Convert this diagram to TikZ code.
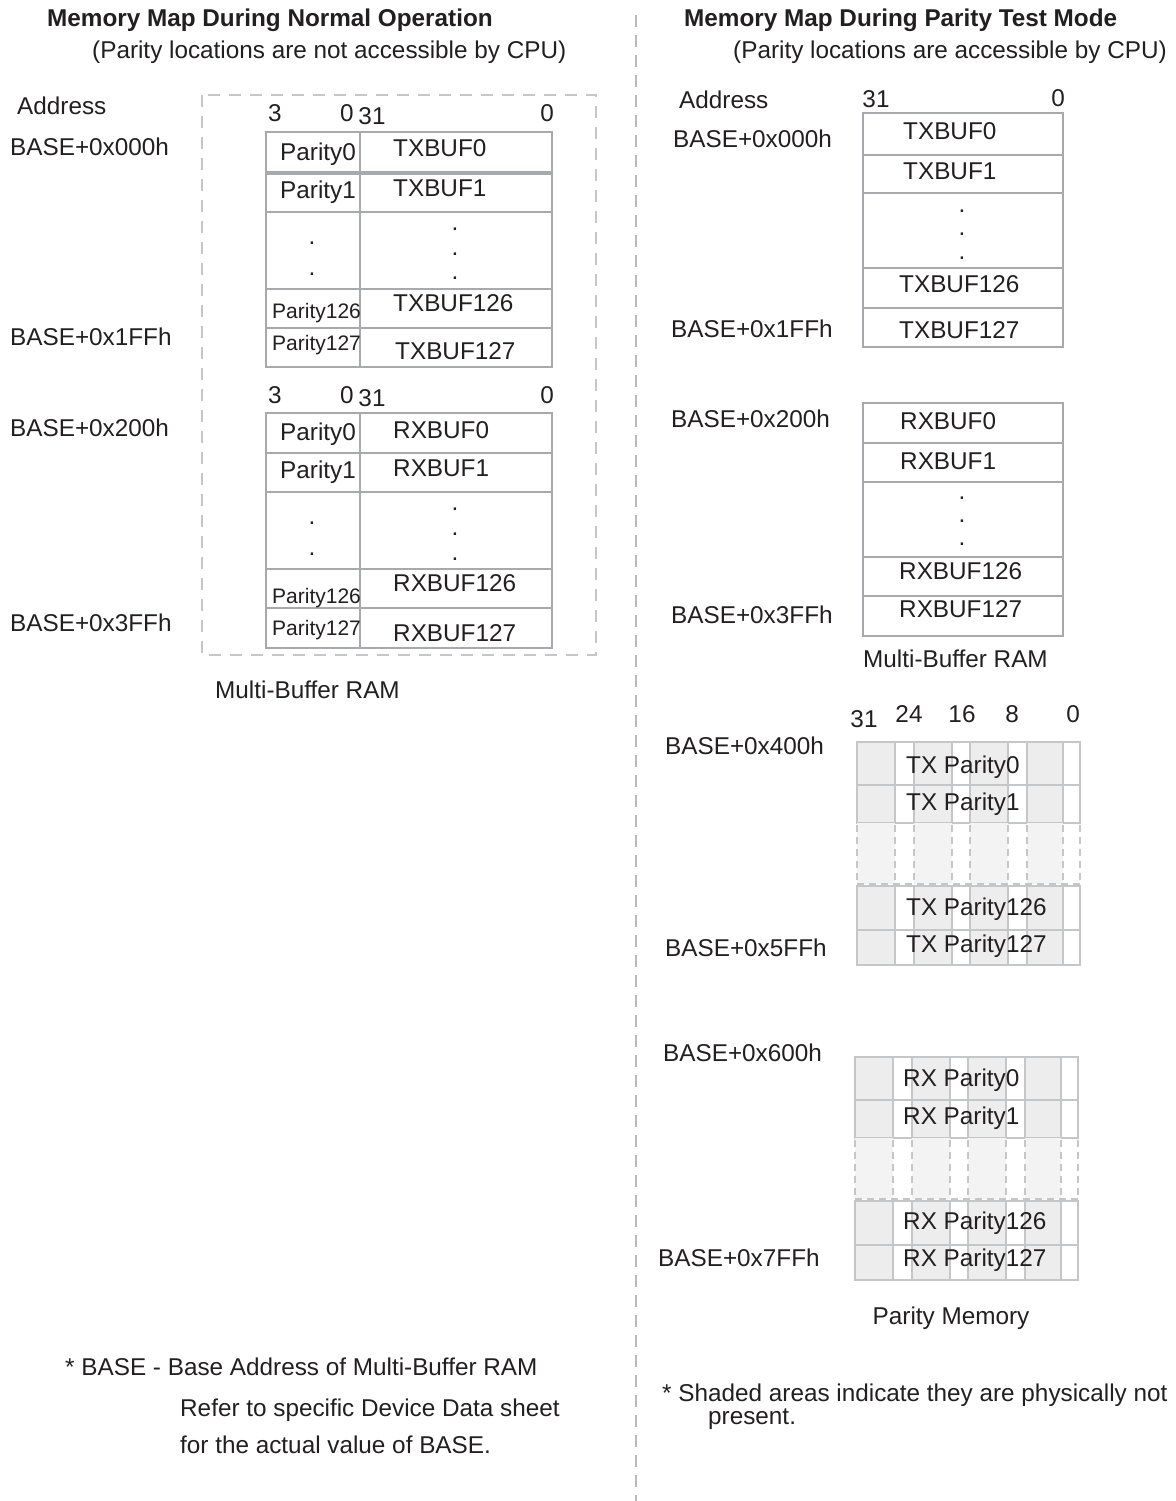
\documentclass[tikz,border=0pt]{standalone}
\usepackage{fontspec}
\setmainfont{Liberation Sans}
\definecolor{ink}{HTML}{231F20}
\definecolor{tline}{HTML}{A7A9AC}
\definecolor{pline}{HTML}{C4C6C8}
\definecolor{shadeA}{HTML}{EDEDED}
\definecolor{shadeB}{HTML}{F3F3F3}
\definecolor{dashc}{HTML}{B8BABC}
\begin{document}
\begin{tikzpicture}[x=1pt,y=-1pt,
  every node/.style={inner sep=0pt, text=ink, font=\fontsize{24.3}{28}\selectfont},
  lbl/.style={anchor=base west, yshift=-8.5pt},
  clbl/.style={anchor=base, yshift=-8.5pt},
  boldlbl/.style={anchor=base west, yshift=-8.5pt, font=\fontsize{24.3}{28}\selectfont\bfseries},
  sml/.style={anchor=base west, yshift=-7.5pt, font=\fontsize{21}{25}\selectfont},
  dotn/.style={anchor=base, yshift=-2pt},
  tbl/.style={draw=tline, line width=2.6pt},
  ptbl/.style={draw=pline, line width=2.6pt},
  pdash/.style={draw=pline, line width=2.6pt, dash pattern=on 7pt off 5pt},
  divider/.style={draw=dashc, line width=2.4pt, dash pattern=on 12pt off 8pt},
  ramframe/.style={draw=pline, line width=1.6pt, dash pattern=on 12pt off 9pt}
]
\fill[white] (0,0) rectangle (1175,1501);
\useasboundingbox (0,0) rectangle (1175,1501);

% ---------- divider ----------
\draw[divider] (636,15) -- (636,1501);

% ---------- titles ----------
\node[boldlbl] (lTitle) at (47,18) {Memory Map During Normal Operation};
\node[lbl] (lSub) at (92,50) {(Parity locations are not accessible by CPU)};
\node[boldlbl] (rTitle) at (684,18) {Memory Map During Parity Test Mode};
\node[lbl] (rSub) at (733,50) {(Parity locations are accessible by CPU)};

% ---------- left side ----------
\draw[ramframe] (202,95) rectangle (596,655);

\node[lbl] (lAddr) at (17,106) {Address};
\node[lbl] (lA000) at (10,147) {BASE+0x000h};
\node[lbl] (lA1FF) at (10,337) {BASE+0x1FFh};
\node[lbl] (lA200) at (10,428) {BASE+0x200h};
\node[lbl] (lA3FF) at (10,623) {BASE+0x3FFh};

% TX buffer table (left)
\foreach \a/\b in {132/172,174/212,212/289,289/328,328/367}{
  \draw[tbl] (266,\a) rectangle (360,\b);
  \draw[tbl] (360,\a) rectangle (552,\b);
}
\node[clbl] (ltb3) at (275,113) {3};
\node[clbl] (ltb0a) at (347,113) {0};
\node[clbl] (ltb31) at (372,116) {31};
\node[clbl] (ltb0b) at (547,113) {0};
\node[clbl] (ltp0) at (318,152) {Parity0};
\node[lbl] (ltx0) at (393,148) {TXBUF0};
\node[clbl] (ltp1) at (318,190) {Parity1};
\node[lbl] (ltx1) at (393,188) {TXBUF1};
\node[dotn] (ltd1) at (312,242) {.};
\node[dotn] (ltd2) at (312,273) {.};
\node[dotn] (ltd3) at (455,228) {.};
\node[dotn] (ltd4) at (455,253) {.};
\node[dotn] (ltd5) at (455,277) {.};
\node[sml] (ltp126) at (272,311) {Parity126};
\node[lbl] (ltx126) at (393,303) {TXBUF126};
\node[sml] (ltp127) at (272,343) {Parity127};
\node[lbl] (ltx127) at (395,351) {TXBUF127};

% RX buffer table (left)
\foreach \a/\b in {413/453,453/492,492/569,569/608,608/648}{
  \draw[tbl] (266,\a) rectangle (360,\b);
  \draw[tbl] (360,\a) rectangle (552,\b);
}
\node[clbl] (lrb3) at (275,395) {3};
\node[clbl] (lrb0a) at (347,395) {0};
\node[clbl] (lrb31) at (372,398) {31};
\node[clbl] (lrb0b) at (547,395) {0};
\node[clbl] (lrp0) at (318,432) {Parity0};
\node[lbl] (lrx0) at (393,430) {RXBUF0};
\node[clbl] (lrp1) at (318,470) {Parity1};
\node[lbl] (lrx1) at (393,468) {RXBUF1};
\node[dotn] (lrd1) at (312,522) {.};
\node[dotn] (lrd2) at (312,553) {.};
\node[dotn] (lrd3) at (455,508) {.};
\node[dotn] (lrd4) at (455,533) {.};
\node[dotn] (lrd5) at (455,558) {.};
\node[sml] (lrp126) at (272,596) {Parity126};
\node[lbl] (lrx126) at (393,583) {RXBUF126};
\node[sml] (lrp127) at (272,628) {Parity127};
\node[lbl] (lrx127) at (393,633) {RXBUF127};

\node[lbl] (lRAM) at (215,690) {Multi-Buffer RAM};

\node[lbl] (lNote1) at (65,1367) {* BASE - Base Address of Multi-Buffer RAM};
\node[lbl] (lNote2) at (180,1408) {Refer to specific Device Data sheet};
\node[lbl] (lNote3) at (180,1445) {for the actual value of BASE.};

% ---------- right side ----------
\node[lbl] (rAddr) at (679,100) {Address};
\node[lbl] (rA000) at (673,139) {BASE+0x000h};
\node[lbl] (rA1FF) at (671,329) {BASE+0x1FFh};
\node[lbl] (rA200) at (671,419) {BASE+0x200h};
\node[lbl] (rA3FF) at (671,615) {BASE+0x3FFh};
\node[lbl] (rA400) at (665,746) {BASE+0x400h};
\node[lbl] (rA5FF) at (665,948) {BASE+0x5FFh};
\node[lbl] (rA600) at (663,1053) {BASE+0x600h};
\node[lbl] (rA7FF) at (658,1258) {BASE+0x7FFh};

% TX buffer (right)
\foreach \a/\b in {113/155,155/193,193/268,268/308,308/347}{
  \draw[tbl] (863,\a) rectangle (1063,\b);
}
\node[clbl] (rtb31) at (876,99) {31};
\node[clbl] (rtb0) at (1058,98) {0};
\node[lbl] (rtx0) at (903,131) {TXBUF0};
\node[lbl] (rtx1) at (903,171) {TXBUF1};
\node[dotn] (rtd1) at (962,210) {.};
\node[dotn] (rtd2) at (962,233) {.};
\node[dotn] (rtd3) at (962,257) {.};
\node[lbl] (rtx126) at (899,284) {TXBUF126};
\node[lbl] (rtx127) at (899,330) {TXBUF127};

% RX buffer (right)
\foreach \a/\b in {403/443,443/482,482/557,557/596,596/636}{
  \draw[tbl] (863,\a) rectangle (1063,\b);
}
\node[lbl] (rrx0) at (900,421) {RXBUF0};
\node[lbl] (rrx1) at (900,461) {RXBUF1};
\node[dotn] (rrd1) at (962,497) {.};
\node[dotn] (rrd2) at (962,520) {.};
\node[dotn] (rrd3) at (962,543) {.};
\node[lbl] (rrx126) at (899,571) {RXBUF126};
\node[lbl] (rrx127) at (899,609) {RXBUF127};
\node[lbl] (rRAM) at (863,659) {Multi-Buffer RAM};

% bit labels for parity memory
\node[clbl] (pb31) at (864,719) {31};
\node[clbl] (pb24) at (909,714) {24};
\node[clbl] (pb16) at (962,714) {16};
\node[clbl] (pb8) at (1012,714) {8};
\node[clbl] (pb0) at (1073,714) {0};

% TX parity table and RX parity table
\foreach \dx/\dy in {0/0,-2/315}{
\begin{scope}[shift={(\dx,\dy)}]
  \foreach \a/\b in {742/785,785/823,886/930,930/965}{
    \foreach \l/\r in {857/895,914/952,970/1008,1027/1063}
      \fill[shadeA] (\l,\a) rectangle (\r,\b);
    \foreach \l/\r in {857/895,895/914,914/952,952/970,970/1008,1008/1027,1027/1063,1063/1080}
      \draw[ptbl] (\l,\a) rectangle (\r,\b);
  }
  \foreach \l/\r in {857/895,914/952,970/1008,1027/1063}
    \fill[shadeB] (\l,823) rectangle (\r,884);
  \foreach \x in {857,895,914,952,970,1008,1027,1063,1080}
    \draw[pdash] (\x,825) -- (\x,884);
  \draw[pdash] (857,884) -- (1080,884);
\end{scope}
}
\node[lbl] (tp0) at (906,765) {TX Parity0};
\node[lbl] (tp1) at (906,802) {TX Parity1};
\node[lbl] (tp126) at (906,907) {TX Parity126};
\node[lbl] (tp127) at (906,944) {TX Parity127};
\node[lbl] (rp0) at (903,1078) {RX Parity0};
\node[lbl] (rp1) at (903,1116) {RX Parity1};
\node[lbl] (rp126) at (903,1221) {RX Parity126};
\node[lbl] (rp127) at (903,1258) {RX Parity127};

\node[clbl] (pMem) at (951,1316) {Parity Memory};

\node[lbl] (rNote1) at (662,1393) {* Shaded areas indicate they are physically not};
\node[lbl] (rNote2) at (708,1416) {present.};
\end{tikzpicture}
\end{document}
